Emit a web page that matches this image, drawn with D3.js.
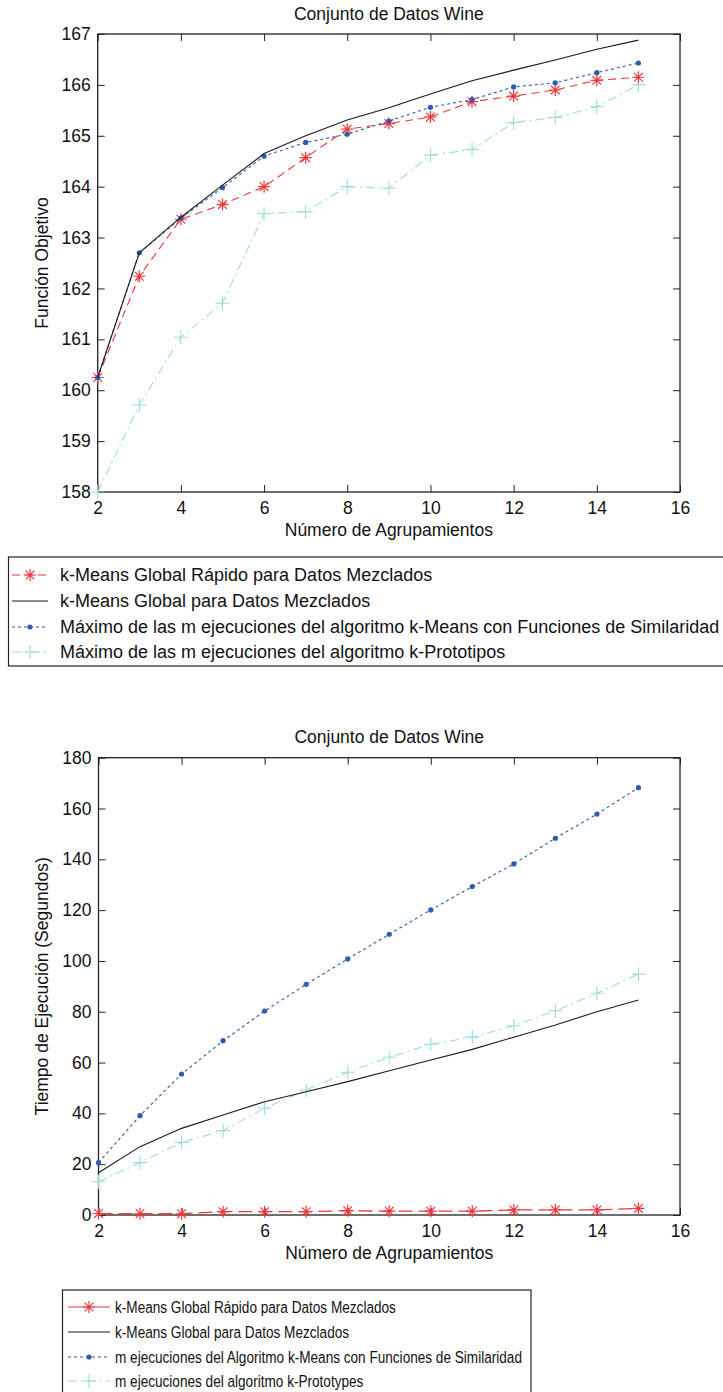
<!DOCTYPE html>
<html>
<head>
<meta charset="utf-8">
<script src="https://cdn.jsdelivr.net/npm/d3@7"></script>
<style>
  html, body { margin: 0; padding: 0; background: #fff; }
  svg { display: block; }
  text { font-family: "Liberation Sans", Arial, sans-serif; fill: #111; }
</style>
</head>
<body>
<svg id="fig" width="723" height="1392"></svg>
<script>
// Number of clusters evaluated
const clusters = [2, 3, 4, 5, 6, 7, 8, 9, 10, 11, 12, 13, 14, 15];

// Objective function (Wine dataset)
const objRapido      = [160.25, 162.24, 163.36, 163.65, 164.00, 164.57, 165.13, 165.24, 165.37, 165.67, 165.78, 165.90, 166.09, 166.15];
const objGlobal      = [160.25, 162.70, 163.40, 164.03, 164.65, 165.00, 165.31, 165.55, 165.82, 166.08, 166.29, 166.49, 166.70, 166.88];
const objSimilaridad = [160.25, 162.70, 163.38, 163.98, 164.60, 164.87, 165.03, 165.29, 165.56, 165.71, 165.96, 166.04, 166.24, 166.43];
const objPrototipos  = [158.00, 159.71, 161.04, 161.71, 163.47, 163.51, 164.00, 163.97, 164.62, 164.73, 165.26, 165.36, 165.57, 166.00];

// Execution time in seconds (Wine dataset)
const timeRapido      = [0.6, 0.5, 0.5, 1.3, 1.3, 1.3, 1.7, 1.5, 1.5, 1.5, 2.0, 2.0, 2.0, 2.6];
const timeGlobal      = [16.6, 26.9, 34.1, 39.4, 44.6, 48.5, 52.5, 56.8, 61.0, 65.2, 70.0, 74.8, 80.0, 84.6];
const timeSimilaridad = [20.6, 39.1, 55.5, 68.6, 80.3, 90.8, 100.8, 110.5, 120.1, 129.3, 138.2, 148.3, 157.8, 168.2];
const timePrototypes  = [13.1, 20.6, 28.6, 33.2, 42.0, 49.2, 56.2, 62.1, 67.2, 70.0, 74.5, 80.4, 87.3, 94.8];

// Tick values
const xTicks = [2, 4, 6, 8, 10, 12, 14, 16];
const objTicks = [158, 159, 160, 161, 162, 163, 164, 165, 166, 167];
const timeTicks = [0, 20, 40, 60, 80, 100, 120, 140, 160, 180];

// Texts
const chartTitle = "Conjunto de Datos Wine";
const xLabel = "Número de Agrupamientos";
const objLabel = "Función Objetivo";
const timeLabel = "Tiempo de Ejecución (Segundos)";
const objLegend = [
  "k-Means Global Rápido para Datos Mezclados",
  "k-Means Global para Datos Mezclados",
  "Máximo de las m ejecuciones del algoritmo k-Means con Funciones de Similaridad",
  "Máximo de las m ejecuciones del algoritmo k-Prototipos"
];
const timeLegend = [
  "k-Means Global Rápido para Datos Mezclados",
  "k-Means Global para Datos Mezclados",
  "m ejecuciones del Algoritmo k-Means con Funciones de Similaridad",
  "m ejecuciones del algoritmo k-Prototypes"
];

const RED = "#f2373a", BLACK = "#1a1a1a", BLUE = "#2c5db5", CYAN = "#9edcda";
const FONT = 17.5;

const svg = d3.select("#fig");

function marker(g, type, color, x, y) {
  if (type === "star") {
    const r = 6, d = r * 0.72;
    g.append("path")
      .attr("d", `M${x - r},${y}H${x + r}M${x},${y - r}V${y + r}M${x - d},${y - d}L${x + d},${y + d}M${x - d},${y + d}L${x + d},${y - d}`)
      .attr("stroke", color).attr("stroke-width", 1.2).attr("fill", "none");
  } else if (type === "dot") {
    g.append("circle").attr("cx", x).attr("cy", y).attr("r", 2.6).attr("fill", color);
  } else if (type === "plus") {
    const r = 7;
    g.append("path")
      .attr("d", `M${x - r},${y}H${x + r}M${x},${y - r}V${y + r}`)
      .attr("stroke", color).attr("stroke-width", 1.1).attr("fill", "none");
  }
}

function drawPanel(cfg) {
  const { left, right, top, bottom, yDomain, yTicks, series, title, yTitle, titleY, xTitleY } = cfg;
  const x = d3.scaleLinear().domain([2, 16]).range([left, right]);
  const y = d3.scaleLinear().domain(yDomain).range([bottom, top]);
  const g = svg.append("g");
  const tl = 7;

  // axes: bottom/left carry labels, top/right only ticks (ticks point inward)
  g.append("g").attr("transform", `translate(0,${bottom})`)
    .call(d3.axisBottom(x).tickValues(xTicks).tickSizeInner(-tl).tickSizeOuter(0).tickPadding(tl + 3).tickFormat(d3.format("d")));
  g.append("g").attr("transform", `translate(0,${top})`)
    .call(d3.axisTop(x).tickValues(xTicks).tickSizeInner(-tl).tickSizeOuter(0).tickFormat(""));
  g.append("g").attr("transform", `translate(${left},0)`)
    .call(d3.axisLeft(y).tickValues(yTicks).tickSizeInner(-tl).tickSizeOuter(0).tickPadding(tl + 0).tickFormat(d3.format("d")));
  g.append("g").attr("transform", `translate(${right},0)`)
    .call(d3.axisRight(y).tickValues(yTicks).tickSizeInner(-tl).tickSizeOuter(0).tickFormat(""));
  g.selectAll(".domain").remove();
  g.selectAll(".tick line").attr("stroke", "#222").attr("stroke-width", 1);
  g.selectAll(".tick text").attr("font-size", FONT).attr("fill", "#111")
    .attr("font-family", '"Liberation Sans", Arial, sans-serif');

  g.append("rect").attr("x", left).attr("y", top)
    .attr("width", right - left).attr("height", bottom - top)
    .attr("fill", "none").attr("stroke", "#222").attr("stroke-width", 1.3);

  const line = d3.line().x((d, i) => x(clusters[i])).y(d => y(d));
  series.forEach(s => {
    g.append("path").datum(s.values).attr("d", line)
      .attr("fill", "none").attr("stroke", s.color).attr("stroke-width", s.width || 1.1)
      .attr("stroke-dasharray", s.dash || null);
    if (s.marker) s.values.forEach((v, i) => marker(g, s.marker, s.color, x(clusters[i]), y(v)));
  });

  const cx = (left + right) / 2;
  g.append("text").attr("x", cx).attr("y", titleY).attr("text-anchor", "middle")
    .attr("dominant-baseline", "central").attr("font-size", FONT).text(title);
  g.append("text").attr("x", cx).attr("y", xTitleY).attr("text-anchor", "middle")
    .attr("dominant-baseline", "central").attr("font-size", FONT).text(xLabel);
  g.append("text").attr("transform", `translate(42,${(top + bottom) / 2}) rotate(-90)`)
    .attr("text-anchor", "middle").attr("dominant-baseline", "central").attr("font-size", FONT).text(yTitle);
}

function drawLegend(cfg) {
  const { x0, y0, x1, y1, rows, rowY, sampleX0, sampleX1, textX, fontSize, squeeze } = cfg;
  const g = svg.append("g");
  g.append("rect").attr("x", x0).attr("y", y0).attr("width", x1 - x0).attr("height", y1 - y0)
    .attr("fill", "#fff").attr("stroke", "#222").attr("stroke-width", 1.2);
  rows.forEach((r, i) => {
    const yy = rowY[i];
    g.append("line").attr("x1", sampleX0).attr("x2", sampleX1).attr("y1", yy).attr("y2", yy)
      .attr("stroke", r.color).attr("stroke-width", 1.1).attr("stroke-dasharray", r.dash || null);
    if (r.marker) marker(g, r.marker, r.color, (sampleX0 + sampleX1) / 2, yy);
    g.append("text").attr("transform", `translate(${textX},${yy}) scale(${squeeze},1)`)
      .attr("dominant-baseline", "central")
      .attr("font-size", fontSize).text(r.label);
  });
}

// Objective function panel
drawPanel({
  left: 97.7, right: 680, top: 34, bottom: 492,
  yDomain: [158, 167], yTicks: objTicks,
  title: chartTitle, yTitle: objLabel, titleY: 14, xTitleY: 530,
  series: [
    { values: objPrototipos, color: CYAN, dash: "9,4,2,4", marker: "plus" },
    { values: objRapido, color: RED, dash: "8,5", marker: "star" },
    { values: objSimilaridad, color: BLUE, dash: "3,3", marker: "dot" },
    { values: objGlobal, color: BLACK }
  ]
});

drawLegend({
  x0: 8.5, y0: 557, x1: 740, y1: 666, fontSize: 18, squeeze: 1,
  rowY: [575, 601, 627, 652], sampleX0: 12, sampleX1: 48, textX: 60,
  rows: [
    { label: objLegend[0], color: RED, dash: "8,5", marker: "star" },
    { label: objLegend[1], color: BLACK },
    { label: objLegend[2], color: BLUE, dash: "3,3", marker: "dot" },
    { label: objLegend[3], color: CYAN, dash: "9,4,2,4", marker: "plus" }
  ]
});

// Execution time panel
drawPanel({
  left: 98.5, right: 680, top: 757.7, bottom: 1215,
  yDomain: [0, 180], yTicks: timeTicks,
  title: chartTitle, yTitle: timeLabel, titleY: 737, xTitleY: 1253,
  series: [
    { values: timePrototypes, color: CYAN, dash: "9,4,2,4", marker: "plus" },
    { values: timeGlobal, color: BLACK },
    { values: timeSimilaridad, color: BLUE, dash: "3,3", marker: "dot" },
    { values: timeRapido, color: RED, dash: "14,6", marker: "star", width: 1.3 }
  ]
});

drawLegend({
  x0: 62.5, y0: 1290, x1: 531, y1: 1400, fontSize: 17, squeeze: 0.8,
  rowY: [1307, 1332, 1357, 1381], sampleX0: 68, sampleX1: 110, textX: 115,
  rows: [
    { label: timeLegend[0], color: RED, marker: "star" },
    { label: timeLegend[1], color: BLACK },
    { label: timeLegend[2], color: BLUE, dash: "3,3", marker: "dot" },
    { label: timeLegend[3], color: CYAN, dash: "9,4,2,4", marker: "plus" }
  ]
});
</script>
</body>
</html>
